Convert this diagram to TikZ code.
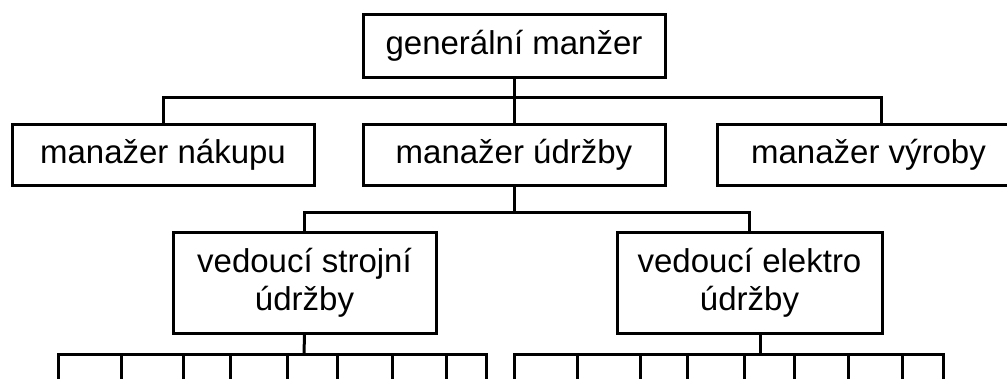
\documentclass[tikz,border=0pt]{standalone}
\usepackage{fontspec}
\setmainfont{Liberation Sans}
\begin{document}
\begin{tikzpicture}[x=1pt,y=-1pt,
  box/.style={draw=black,line width=3pt,inner sep=0pt,align=center,
    font=\fontsize{33}{38}\selectfont},
  conn/.style={draw=black,line width=3pt}]
\useasboundingbox (0,0) rectangle (1007,378);

% top level
\node[box,minimum width=302pt,minimum height=63pt] (gm) at (514,45.5) {generální manžer};

% second level
\node[box,minimum width=302pt,minimum height=61pt] (mn) at (163,154.5) {manažer nákupu};
\node[box,minimum width=302pt,minimum height=61pt] (mu) at (514,154.5) {manažer údržby};
\node[box,minimum width=303pt,minimum height=61pt] (mv) at (868.5,154.5) {manažer výroby};

% third level
\node[box,minimum width=263pt,minimum height=101pt] (vs) at (304.5,282.5) {vedoucí strojní\\údržby};
\node[box,minimum width=265pt,minimum height=101pt] (ve) at (749.5,282.5) {vedoucí elektro\\údržby};

% junction points
\coordinate (mvtop) at (881,124);
\coordinate (b2) at (514,212);
\coordinate (vedrop) at (760,333);

% first bus
\draw[conn] (gm.south) -- (mu.north);
\draw[conn] (mn.north) -- ++(0,-25) -| (mvtop);

% second bus
\draw[conn] (mu.south) -- (b2);
\draw[conn] (vs.north) |- (b2) -| (ve.north);

% third bus, left group
\draw[conn] (vs.south) -- (304,354);
\foreach \i/\x in {1/58,2/121,3/183,4/230,5/287,6/337,7/392,8/446,9/486}{
  \coordinate (la\i) at (\x,354);
  \coordinate (lb\i) at (\x,385);
}
\draw[conn] (lb1) -- (la1) -- (la9) -- (lb9);
\foreach \i in {2,...,8}{\draw[conn] (la\i) -- (lb\i);}

% third bus, right group
\draw[conn] (vedrop) -- (760,354);
\foreach \i/\x in {1/514,2/577,3/640,4/687,5/744,6/794,7/848,8/902,9/943}{
  \coordinate (ra\i) at (\x,354);
  \coordinate (rb\i) at (\x,385);
}
\draw[conn] (rb1) -- (ra1) -- (ra9) -- (rb9);
\foreach \i in {2,...,8}{\draw[conn] (ra\i) -- (rb\i);}
\end{tikzpicture}
\end{document}
